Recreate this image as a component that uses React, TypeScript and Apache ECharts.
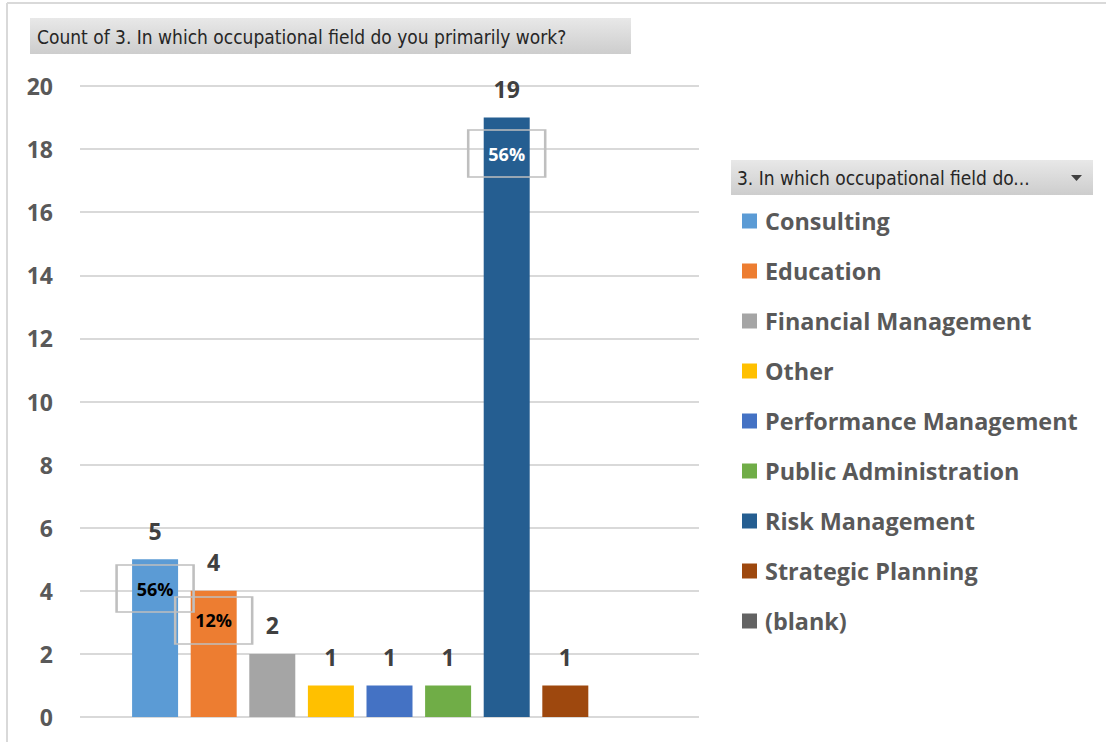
import React, { useEffect, useRef } from "react";
import * as echarts from "echarts";

const categories = [
  "Consulting",
  "Education",
  "Financial Management",
  "Other",
  "Performance Management",
  "Public Administration",
  "Risk Management",
  "Strategic Planning",
  "(blank)",
];
const counts: (number | null)[] = [5, 4, 2, 1, 1, 1, 19, 1, null];
const colors = [
  "#5B9BD5",
  "#ED7D31",
  "#A5A5A5",
  "#FFC000",
  "#4472C4",
  "#70AD47",
  "#255E91",
  "#9E480E",
  "#636363",
];
// percentage call-out boxes (text, value at which the box is centred, text colour)
const shareLabels: (string | null)[] = ["56%", "12%", null, null, null, null, "56%", null, null];
const shareLabelAt: (number | null)[] = [4.07, 3.06, null, null, null, null, 17.86, null, null];
const shareLabelColor = ["#000000", "#000000", "", "", "", "", "#ffffff", "", ""];

const yMin = 0;
const yMax = 20;
const yInterval = 2;

const titleText = "Count of 3. In which occupational field do you primarily work?";
const legendHeader = "3. In which occupational field do...";

const FONT = "'Open Sans', 'Noto Sans', sans-serif";
const NARROW = "'Liberation Sans Narrow', 'DejaVu Sans Condensed', 'Liberation Sans', sans-serif";

const grayGrad = {
  type: "linear",
  x: 0,
  y: 0,
  x2: 0,
  y2: 1,
  colorStops: [
    { offset: 0, color: "#e8e8e8" },
    { offset: 1, color: "#cdcdcd" },
  ],
};

export default function App() {
  const ref = useRef<HTMLDivElement>(null);
  useEffect(() => {
    document.body.style.margin = "0";
    const chart = echarts.init(ref.current!, null, { renderer: "svg" });
    const series = categories.map((name, i) => {
      const s: any = {
        type: "bar",
        name,
        data: [counts[i]],
        barWidth: 46,
        barGap: "27.4%",
        itemStyle: { color: colors[i] },
        label: {
          show: true,
          position: "top",
          distance: 17,
          fontSize: 23,
          fontWeight: "bold",
          color: "#404040",
          fontFamily: FONT,
        },
      };
      if (shareLabels[i]) {
        s.markPoint = {
          silent: true,
          symbol: "rect",
          symbolSize: [77, 47],
          itemStyle: {
            color: "rgba(0,0,0,0)",
            borderColor: "#bfbfbf",
            borderWidth: 2,
          },
          label: {
            show: true,
            position: "inside",
            formatter: shareLabels[i],
            fontSize: 18,
            fontWeight: "bold",
            color: shareLabelColor[i],
            fontFamily: FONT,
          },
          data: [{ coord: [0, shareLabelAt[i]] }],
        };
      }
      return s;
    });

    chart.setOption({
      animation: false,
      backgroundColor: "#ffffff",
      grid: { left: 80, right: 407, top: 86, bottom: 25, containLabel: false },
      xAxis: {
        type: "category",
        data: [""],
        axisLine: { show: false },
        axisTick: { show: false },
        axisLabel: { show: false },
      },
      yAxis: {
        type: "value",
        min: yMin,
        max: yMax,
        interval: yInterval,
        axisLine: { show: false },
        axisTick: { show: false },
        axisLabel: {
          margin: 27,
          fontSize: 23,
          fontWeight: "bold",
          color: "#595959",
          fontFamily: FONT,
        },
        splitLine: { lineStyle: { color: "#d9d9d9", width: 2 } },
      },
      legend: {
        orient: "vertical",
        left: 742,
        top: 206,
        padding: 0,
        itemWidth: 15,
        itemHeight: 15,
        itemGap: 20,
        icon: "rect",
        selectedMode: false,
        textStyle: {
          fontSize: 23.4,
          fontWeight: "bold",
          color: "#595959",
          fontFamily: FONT,
          lineHeight: 30,
          padding: [0, 0, 0, 3],
        },
        data: categories,
      },
      graphic: [
        {
          type: "line",
          shape: { x1: 7, y1: 3, x2: 1106, y2: 3 },
          style: { stroke: "#d9d9d9", lineWidth: 2 },
        },
        {
          type: "line",
          shape: { x1: 7, y1: 3, x2: 7, y2: 742 },
          style: { stroke: "#d9d9d9", lineWidth: 2 },
        },
        {
          type: "rect",
          shape: { x: 30, y: 18, width: 601, height: 36 },
          style: { fill: grayGrad },
        },
        {
          type: "text",
          x: 37,
          y: 37,
          style: {
            text: titleText,
            fontSize: 19,
            fontFamily: NARROW,
            fill: "#262626",
            verticalAlign: "middle",
          },
        },
        {
          type: "rect",
          shape: { x: 731, y: 160, width: 362, height: 35 },
          style: { fill: grayGrad },
        },
        {
          type: "text",
          x: 737,
          y: 178,
          style: {
            text: legendHeader,
            fontSize: 19,
            fontFamily: NARROW,
            fill: "#262626",
            verticalAlign: "middle",
          },
        },
        {
          type: "polygon",
          shape: { points: [[1071, 175], [1082, 175], [1076.5, 181]] },
          style: { fill: "#404040" },
        },
      ],
      series,
    });
    return () => chart.dispose();
  }, []);
  return <div ref={ref} style={{ width: 1106, height: 742 }} />;
}
